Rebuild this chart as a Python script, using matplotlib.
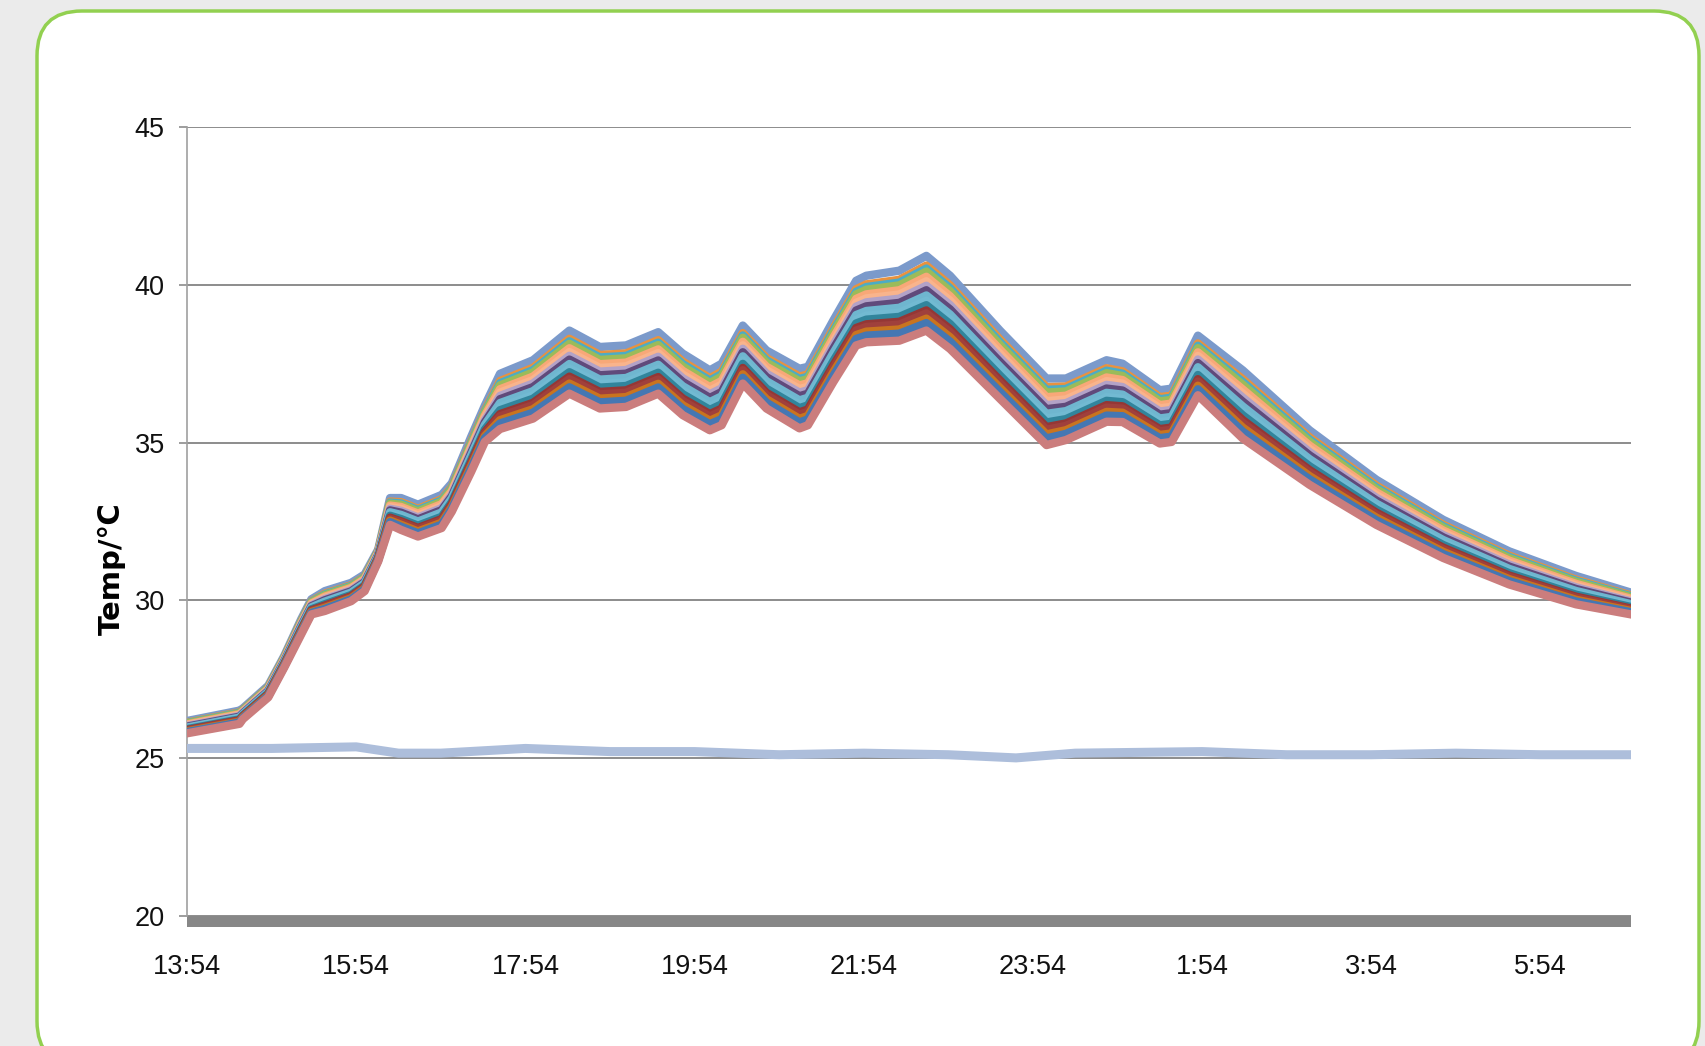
import numpy as np
import matplotlib.pyplot as plt
from matplotlib.patches import FancyBboxPatch

# time in hours after 13:54
hours = [0.00, 0.62, 0.66, 0.96, 1.15, 1.35, 1.47, 1.63, 1.94, 2.10, 2.26, 2.40, 2.53,
         2.73, 3.01, 3.13, 3.36, 3.52, 3.70, 4.09, 4.52, 4.88, 5.19, 5.57, 5.86, 6.18,
         6.32, 6.57, 6.85, 7.24, 7.34, 7.64, 7.91, 8.03, 8.42, 8.74, 9.02, 9.61, 10.16,
         10.39, 10.87, 11.06, 11.50, 11.64, 11.95, 12.48, 13.27, 14.06, 14.85, 15.63,
         16.42, 17.07]
# top and bottom edge of the sensor bundle (deg C)
upper = [26.30, 26.63, 26.70, 27.42, 28.37, 29.53, 30.16, 30.42, 30.68, 30.95, 31.74,
         33.37, 33.37, 33.16, 33.47, 33.84, 35.32, 36.30, 37.31, 37.74, 38.68, 38.16,
         38.21, 38.63, 37.95, 37.42, 37.63, 38.84, 38.05, 37.47, 37.53, 39.00, 40.26,
         40.42, 40.58, 41.05, 40.42, 38.68, 37.16, 37.16, 37.74, 37.63, 36.79, 36.84,
         38.52, 37.42, 35.52, 33.95, 32.68, 31.68, 30.90, 30.37]
lower = [25.65, 25.95, 26.10, 26.79, 27.74, 28.79, 29.42, 29.53, 29.84, 30.16, 31.10,
         32.26, 32.10, 31.89, 32.16, 32.68, 33.95, 34.89, 35.30, 35.63, 36.42, 35.95,
         36.00, 36.42, 35.74, 35.26, 35.42, 36.74, 35.95, 35.32, 35.42, 36.79, 37.95,
         38.05, 38.10, 38.42, 37.84, 36.26, 34.79, 34.95, 35.53, 35.52, 34.84, 34.89,
         36.37, 35.00, 33.53, 32.26, 31.21, 30.37, 29.74, 29.42]

# sensors, top of bundle -> bottom, relative place inside the bundle
sensor_colors = ['#7b9acb', '#e8923f', '#4bacc6', '#9bbb59', '#f8a878', '#f9b48c',
                 '#b3a2c7', '#604a7b', '#6fb6cf', '#72bad2', '#31859c', '#953735',
                 '#a0403c', '#c9741f', '#4577b3', '#cb7d7d']
sensor_pos = [1.00, 0.87, 0.83, 0.79, 0.72, 0.66, 0.60, 0.54, 0.47, 0.40, 0.34,
              0.27, 0.23, 0.16, 0.10, 0.00]

# ambient reference sensor
amb_hours = [0, 1, 2, 2.5, 3, 4, 5, 6, 7, 8, 9, 9.8, 10.5, 12, 13, 14, 15, 16, 17.07]
amb_temp = [25.3, 25.3, 25.35, 25.15, 25.15, 25.3, 25.2, 25.2, 25.1, 25.15, 25.1,
            25.0, 25.15, 25.2, 25.1, 25.1, 25.15, 25.1, 25.1]

xtick_labels = ['13:54', '15:54', '17:54', '19:54', '21:54', '23:54', '1:54', '3:54', '5:54']
yticks = [20, 25, 30, 35, 40, 45]

font = ['Liberation Sans', 'DejaVu Sans']

fig = plt.figure(figsize=(17.05, 10.46), dpi=100)
fig.patch.set_facecolor('#ebebeb')
frame = FancyBboxPatch((0.37, -0.2), 16.62, 10.55,
                       boxstyle='round,pad=0,rounding_size=0.45',
                       transform=fig.dpi_scale_trans, facecolor='white',
                       edgecolor='#92d050', linewidth=2.5, zorder=-10)
fig.patches.append(frame)

ax = fig.add_axes([0.1097, 1 - 926.6 / 1046, 0.9566 - 0.1097, (926.6 - 127.2) / 1046])
ax.set_facecolor('none')
ax.set_zorder(5)

up = np.array(upper)
lo = np.array(lower)
pad = 0.13
for c, p in zip(sensor_colors, sensor_pos):
    y = lo + pad + p * (up - lo - 2 * pad)
    ax.plot(hours, y, color=c, lw=6, solid_joinstyle='round', zorder=3)

ax.plot(amb_hours, amb_temp, color='#adbedb', lw=6.5, zorder=3)

ax.set_xlim(0, 17.07)
ax.set_ylim(19.65, 45)
ax.set_yticks(yticks)
ax.set_xticks(np.arange(0, 17, 2))
ax.set_xticklabels(xtick_labels)
ax.grid(axis='y', color='#8c8c8c', lw=1.4, zorder=1)
ax.axhspan(19.65, 20, color='#878787', zorder=2, lw=0)

for s in ['top', 'right', 'bottom']:
    ax.spines[s].set_visible(False)
ax.spines['left'].set_color('#a0a0a0')
ax.spines['left'].set_linewidth(1.2)
ax.spines['left'].set_bounds(20, 45)

ax.tick_params(axis='y', length=6, width=1.2, color='#8c8c8c', pad=10)
ax.tick_params(axis='x', length=0, pad=20)
for lab in ax.get_xticklabels() + ax.get_yticklabels():
    lab.set_family(font)
    lab.set_fontsize(19.5)
    lab.set_color('#111111')

fig.text(112 / 1705, 1 - 569 / 1046, 'Temp/℃', rotation=90, ha='center', va='center',
         fontsize=21, fontweight='bold', family='DejaVu Sans')

plt.savefig('out.png')
